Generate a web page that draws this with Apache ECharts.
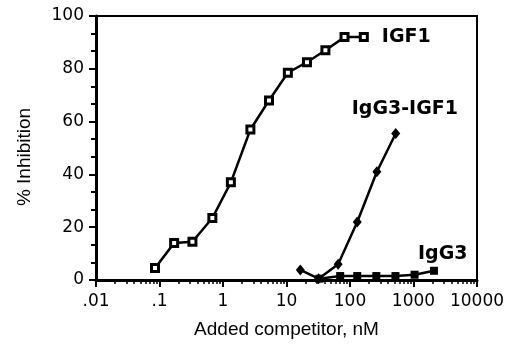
<!DOCTYPE html>
<html>
<head>
<meta charset="utf-8">
<script src="https://cdn.jsdelivr.net/npm/echarts@6/dist/echarts.min.js"></script>
<style>
  html, body { margin: 0; padding: 0; background: #fff; }
  #chart { width: 513px; height: 345px; }
</style>
</head>
<body>
<div id="chart"></div>
<script>
// values (x = nM, y = % inhibition)
const igf1Conc = [0.085, 0.17, 0.33, 0.68, 1.33, 2.7, 5.3, 10.5, 21, 41, 82, 165]
const igf1Inhib = [4.5, 14, 14.5, 23.5, 37, 57, 68, 78.5, 82.5, 87, 92, 92]

const fusionConc = [16.5, 32, 65, 130, 265, 525]
const fusionInhib = [3.8, 0.5, 6, 22, 41, 55.5]

const igg3Conc = [33, 70, 130, 260, 520, 1040, 2100]
const igg3Inhib = [0.5, 1.5, 1.5, 1.5, 1.5, 2, 3.5]

const seriesNames = ['IGF1', 'IgG3-IGF1', 'IgG3']
const xTickLabels = ['.01', '.1', '1', '10', '100', '1000', '10000']

function pairs (xs, ys) {
  return xs.map((x, i) => [x, ys[i]])
}

const labelFont = {
  fontFamily: 'DejaVu Sans',
  fontWeight: 'bold',
  fontSize: 19,
  color: '#000'
}

const chart = echarts.init(document.getElementById('chart'))
const option = {
  animation: false,
  grid: {
    left: 96,
    right: 36,
    top: 16,
    bottom: 65,
    show: true,
    borderColor: '#000',
    borderWidth: 2
  },
  xAxis: {
    type: 'log',
    logBase: 10,
    min: 0.01,
    max: 10000,
    name: 'Added competitor, nM',
    nameLocation: 'middle',
    nameGap: 40,
    nameTextStyle: { fontFamily: 'Liberation Sans', fontSize: 19, color: '#000' },
    axisLine: { lineStyle: { color: '#000', width: 3 } },
    axisTick: { inside: false, length: 7, lineStyle: { color: '#000', width: 2 } },
    minorTick: { show: true, splitNumber: 9, length: 4, lineStyle: { color: '#000', width: 1.5 } },
    splitLine: { show: false },
    axisLabel: {
      margin: 13,
      fontFamily: 'DejaVu Sans',
      fontSize: 17,
      color: '#000',
      formatter: function (v) {
        return xTickLabels[Math.round(Math.log10(v)) + 2]
      }
    }
  },
  yAxis: {
    type: 'value',
    min: 0,
    max: 100,
    interval: 20,
    name: '% Inhibition',
    nameLocation: 'middle',
    nameGap: 62,
    nameTextStyle: { fontFamily: 'Liberation Sans', fontSize: 19, color: '#000', padding: [0, 18, 0, 0] },
    axisLine: { show: true, lineStyle: { color: '#000', width: 3 } },
    axisTick: { show: true, inside: false, length: 7, lineStyle: { color: '#000', width: 2 } },
    minorTick: { show: true, splitNumber: 3, length: 5, lineStyle: { color: '#000', width: 2 } },
    splitLine: { show: false },
    axisLabel: {
      margin: 12,
      fontFamily: 'DejaVu Sans',
      fontSize: 17,
      color: '#000'
    }
  },
  series: [
    {
      name: seriesNames[0],
      type: 'line',
      data: pairs(igf1Conc, igf1Inhib),
      symbol: 'rect',
      symbolSize: 7,
      itemStyle: { color: '#fff', borderColor: '#000', borderWidth: 3 },
      lineStyle: { color: '#000', width: 2.5 },
      endLabel: {
        show: true,
        formatter: seriesNames[0],
        distance: 0,
        offset: [18, 0],
        ...labelFont
      }
    },
    {
      name: seriesNames[1],
      type: 'line',
      data: pairs(fusionConc, fusionInhib),
      symbol: 'diamond',
      symbolSize: [9, 11],
      itemStyle: { color: '#000' },
      lineStyle: { color: '#000', width: 2.5 },
      endLabel: {
        show: true,
        formatter: seriesNames[1],
        distance: 0,
        offset: [-44, -24],
        ...labelFont
      }
    },
    {
      name: seriesNames[2],
      type: 'line',
      data: pairs(igg3Conc, igg3Inhib),
      symbol: 'rect',
      symbolSize: 8,
      itemStyle: { color: '#000' },
      lineStyle: { color: '#000', width: 2.5 },
      endLabel: {
        show: true,
        formatter: seriesNames[2],
        distance: 0,
        offset: [-16, -17],
        ...labelFont
      }
    }
  ]
}
chart.setOption(option)
</script>
</body>
</html>
